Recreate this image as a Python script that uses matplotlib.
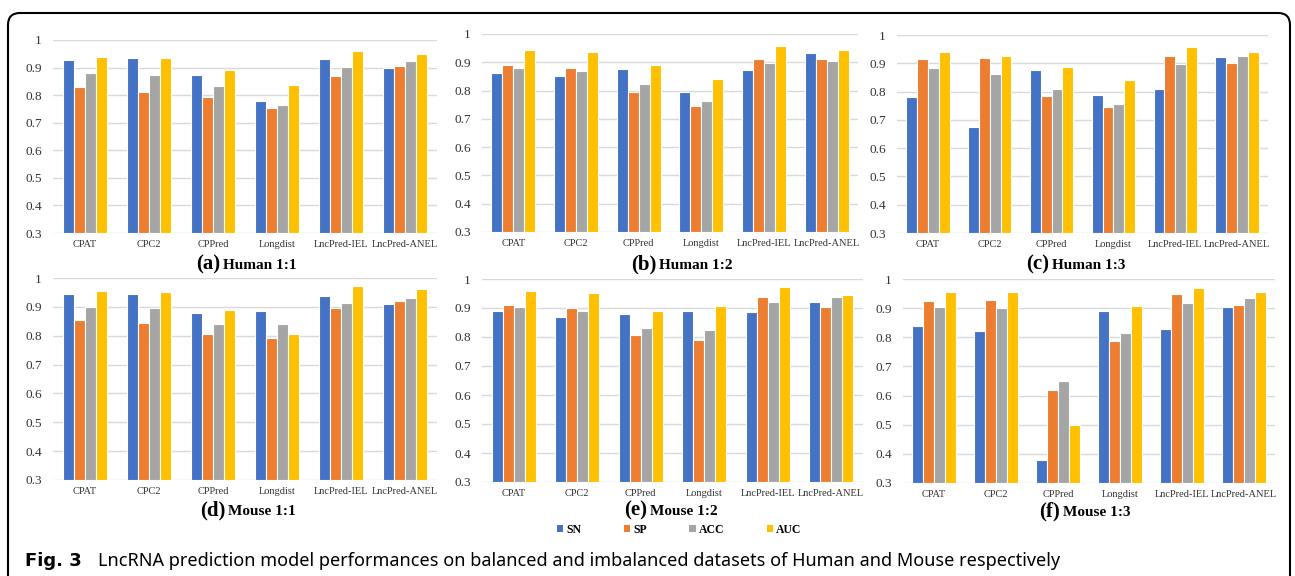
import numpy as np
import matplotlib
matplotlib.use("Agg")
import matplotlib.pyplot as plt
from matplotlib.patches import FancyBboxPatch, Patch
from matplotlib.transforms import IdentityTransform
from matplotlib.ticker import FuncFormatter

# categories and metrics
tools = ["CPAT", "CPC2", "CPPred", "Longdist", "LncPred-IEL", "LncPred-ANEL"]
metrics = ["SN", "SP", "ACC", "AUC"]
colors = ["#4472C4", "#ED7D31", "#A5A5A5", "#FFC000"]

# (a) Human 1:1
h11_sn = [0.928, 0.935, 0.873, 0.778, 0.932, 0.900]
h11_sp = [0.831, 0.813, 0.794, 0.753, 0.871, 0.906]
h11_acc = [0.879, 0.874, 0.833, 0.765, 0.901, 0.923]
h11_auc = [0.940, 0.934, 0.891, 0.837, 0.960, 0.949]

# (b) Human 1:2
h12_sn = [0.861, 0.852, 0.876, 0.794, 0.872, 0.933]
h12_sp = [0.892, 0.880, 0.794, 0.747, 0.912, 0.910]
h12_acc = [0.881, 0.870, 0.822, 0.762, 0.899, 0.903]
h12_auc = [0.942, 0.938, 0.892, 0.842, 0.959, 0.943]

# (c) Human 1:3
h13_sn = [0.782, 0.676, 0.875, 0.788, 0.808, 0.921]
h13_sp = [0.915, 0.919, 0.785, 0.745, 0.926, 0.901]
h13_acc = [0.882, 0.861, 0.808, 0.756, 0.898, 0.924]
h13_auc = [0.939, 0.926, 0.886, 0.840, 0.956, 0.940]

# (d) Mouse 1:1
m11_sn = [0.944, 0.944, 0.879, 0.885, 0.936, 0.909]
m11_sp = [0.855, 0.845, 0.806, 0.792, 0.895, 0.922]
m11_acc = [0.900, 0.895, 0.841, 0.840, 0.914, 0.931]
m11_auc = [0.955, 0.951, 0.889, 0.806, 0.972, 0.961]

# (e) Mouse 1:2
m12_sn = [0.889, 0.870, 0.880, 0.889, 0.886, 0.920]
m12_sp = [0.909, 0.900, 0.806, 0.790, 0.938, 0.903]
m12_acc = [0.903, 0.889, 0.830, 0.824, 0.920, 0.937]
m12_auc = [0.957, 0.953, 0.889, 0.908, 0.973, 0.946]

# (f) Mouse 1:3
m13_sn = [0.840, 0.822, 0.380, 0.891, 0.830, 0.904]
m13_sp = [0.925, 0.929, 0.620, 0.788, 0.950, 0.911]
m13_acc = [0.904, 0.902, 0.650, 0.813, 0.919, 0.936]
m13_auc = [0.955, 0.954, 0.500, 0.906, 0.968, 0.955]

serif = "Liberation Serif"
W, H = 1295, 576
fig = plt.figure(figsize=(W / 100, H / 100), dpi=100)
fig.patch.set_facecolor("white")


def px_axes(x0, y0, x1, y1):
    return fig.add_axes([x0 / W, 1 - y1 / H, (x1 - x0) / W, (y1 - y0) / H])


def draw_panel(ax, series):
    x = np.arange(len(tools))
    bw = 0.175
    for i, vals in enumerate(series):
        ax.bar(x + (i - 1.5) * bw, np.array(vals) - 0.3, bw, bottom=0.3,
               color=colors[i], edgecolor="white", linewidth=0.8, zorder=3)
    ax.set_xlim(-0.5, len(tools) - 0.5)
    ax.set_ylim(0.3, 1.0)
    ax.set_yticks(np.arange(0.3, 1.01, 0.1))
    ax.yaxis.set_major_formatter(FuncFormatter(lambda v, p: f"{v:.1f}" if v < 0.99 else "1"))
    ax.set_xticks(x)
    ax.set_xticklabels(tools, fontsize=7.5, family=serif, color="#333333")
    for lab in ax.get_yticklabels():
        lab.set_family(serif)
        lab.set_fontsize(9.5)
        lab.set_color("#333333")
    ax.tick_params(axis="y", length=0, pad=8)
    ax.tick_params(axis="x", length=0, pad=5)
    ax.grid(axis="y", color="#D9D9D9", linewidth=1.0, zorder=0)
    ax.set_axisbelow(True)
    for s in ax.spines.values():
        s.set_visible(False)


panels = [
    ((53, 40, 437, 233), [h11_sn, h11_sp, h11_acc, h11_auc], "(a)", "Human 1:1", 220, 269),
    ((482, 34, 858, 232), [h12_sn, h12_sp, h12_acc, h12_auc], "(b)", "Human 1:2", 656, 269),
    ((897, 35, 1268, 233), [h13_sn, h13_sp, h13_acc, h13_auc], "(c)", "Human 1:3", 1049, 269),
    ((53, 278, 437, 480), [m11_sn, m11_sp, m11_acc, m11_auc], "(d)", "Mouse 1:1", 225, 515),
    ((482, 279, 863, 482), [m12_sn, m12_sp, m12_acc, m12_auc], "(e)", "Mouse 1:2", 647, 515),
    ((903, 279, 1275, 483), [m13_sn, m13_sp, m13_acc, m13_auc], "(f)", "Mouse 1:3", 1060, 516),
]

for box, series, tag, name, split, base in panels:
    ax = px_axes(*box)
    draw_panel(ax, series)
    fig.text(split / W, 1 - base / H, tag, ha="right", va="baseline",
             family=serif, fontweight="bold", fontsize=15)
    fig.text((split + 3) / W, 1 - base / H, name, ha="left", va="baseline",
             family=serif, fontweight="bold", fontsize=11)

# legend
handles = [Patch(facecolor=c, edgecolor="none") for c in colors]
fig.legend(handles, metrics, loc="center", bbox_to_anchor=(679 / W, 1 - 530 / H),
           ncol=4, frameon=False, handlelength=0.55, handleheight=0.55,
           handletextpad=0.25, columnspacing=3.6,
           prop={"family": serif, "weight": "bold", "size": 8.5})

# rounded frame
frame = FancyBboxPatch((8, -20), 1282, (H - 13) + 20,
                       boxstyle="round,pad=0,rounding_size=12",
                       transform=IdentityTransform(), facecolor="none",
                       edgecolor="black", linewidth=1.5)
fig.patches.append(frame)

# caption
fig.text(25 / W, 1 - 566 / H, "Fig. 3", ha="left", va="baseline",
         family="DejaVu Sans", fontweight="bold", fontsize=13)
fig.text(98 / W, 1 - 566 / H,
         "LncRNA prediction model performances on balanced and imbalanced datasets of Human and Mouse respectively",
         ha="left", va="baseline", family="Noto Sans", fontsize=13)

fig.savefig("out.png", dpi=100)
